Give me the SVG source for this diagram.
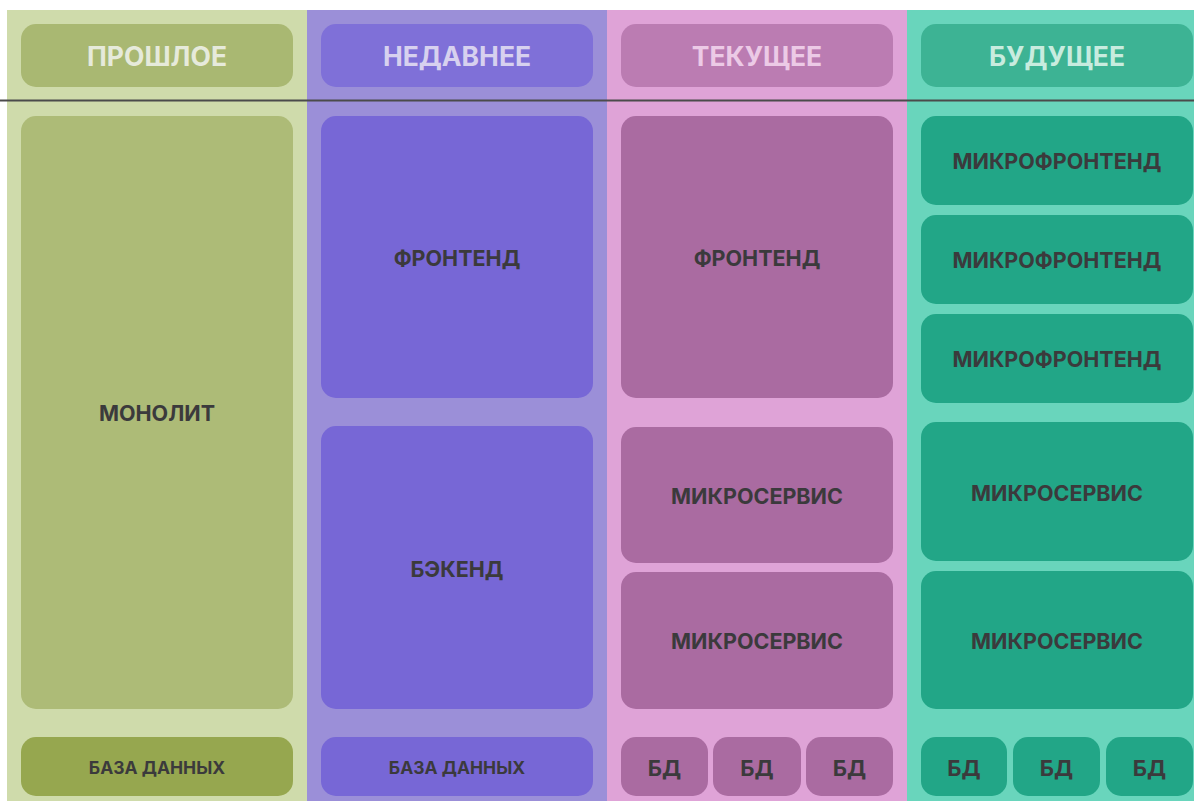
<svg xmlns="http://www.w3.org/2000/svg" width="1194" height="801" viewBox="0 0 1194 801">
<style>
.t{font-family:Inter,"Open Sans","Noto Sans","DejaVu Sans",sans-serif;font-weight:700;text-anchor:middle;dominant-baseline:central}
.h{font-size:26.5px}
.b{font-size:21.5px;fill:#3b3a3c}
.s{font-size:17.5px;fill:#3b3a3c}
.d{font-size:22px;fill:#3b3a3c}
</style>
<rect width="1194" height="801" fill="#ffffff"/>
<g id="columns">
<rect x="7" y="10" width="300" height="791" fill="#cfdbab"/>
<rect x="307" y="10" width="300" height="791" fill="#9b8fd8"/>
<rect x="607" y="10" width="300" height="791" fill="#dfa3d7"/>
<rect x="907" y="10" width="287" height="791" fill="#69d5bc"/>
</g>
<g id="h-past"><rect x="21" y="24" width="272" height="63" rx="15" fill="#a9b872"/><text class="t h" x="157" y="56" fill="#e6eadb">ПРОШЛОЕ</text></g>
<g id="h-recent"><rect x="321" y="24" width="272" height="63" rx="15" fill="#7f70d8"/><text class="t h" x="457" y="56" fill="#d7d1ef">НЕДАВНЕЕ</text></g>
<g id="h-current"><rect x="621" y="24" width="272" height="63" rx="15" fill="#bb7cb2"/><text class="t h" x="757" y="56" fill="#eccae6">ТЕКУЩЕЕ</text></g>
<g id="h-future"><rect x="921" y="24" width="272" height="63" rx="15" fill="#3db394"/><text class="t h" x="1057" y="56" fill="#c8ecdf">БУДУЩЕЕ</text></g>
<g id="connectors"><line x1="0" y1="100.5" x2="1194" y2="100.5" stroke="#4b4b4b" stroke-width="2"/></g>
<g id="monolith"><rect x="21" y="116" width="272" height="593" rx="15" fill="#adbb77"/><text class="t b" x="157" y="413">МОНОЛИТ</text></g>
<g id="db-past"><rect x="21" y="737" width="272" height="59" rx="15" fill="#96a74f"/><text class="t s" x="157" y="767">БАЗА ДАННЫХ</text></g>
<g id="frontend-recent"><rect x="321" y="116" width="272" height="282" rx="15" fill="#7767d6"/><text class="t b" x="457" y="258">ФРОНТЕНД</text></g>
<g id="backend-recent"><rect x="321" y="426" width="272" height="283" rx="15" fill="#7767d6"/><text class="t b" x="457" y="569">БЭКЕНД</text></g>
<g id="db-recent"><rect x="321" y="737" width="272" height="59" rx="15" fill="#7767d6"/><text class="t s" x="457" y="767">БАЗА ДАННЫХ</text></g>
<g id="frontend-current"><rect x="621" y="116" width="272" height="282" rx="15" fill="#aa6ba1"/><text class="t b" x="757" y="258">ФРОНТЕНД</text></g>
<g id="ms1-current"><rect x="621" y="427" width="272" height="136" rx="15" fill="#aa6ba1"/><text class="t b" x="757" y="496">МИКРОСЕРВИС</text></g>
<g id="ms2-current"><rect x="621" y="572" width="272" height="137" rx="15" fill="#aa6ba1"/><text class="t b" x="757" y="641">МИКРОСЕРВИС</text></g>
<g id="db1-current"><rect x="621" y="737" width="87" height="59" rx="15" fill="#aa6ba1"/><text class="t d" x="664.5" y="768">БД</text></g>
<g id="db2-current"><rect x="713" y="737" width="88" height="59" rx="15" fill="#aa6ba1"/><text class="t d" x="757" y="768">БД</text></g>
<g id="db3-current"><rect x="806" y="737" width="87" height="59" rx="15" fill="#aa6ba1"/><text class="t d" x="849.5" y="768">БД</text></g>
<g id="mfe1"><rect x="921" y="116" width="272" height="89" rx="15" fill="#22a687"/><text class="t b" x="1057" y="161">МИКРОФРОНТЕНД</text></g>
<g id="mfe2"><rect x="921" y="215" width="272" height="89" rx="15" fill="#22a687"/><text class="t b" x="1057" y="260">МИКРОФРОНТЕНД</text></g>
<g id="mfe3"><rect x="921" y="314" width="272" height="89" rx="15" fill="#22a687"/><text class="t b" x="1057" y="359">МИКРОФРОНТЕНД</text></g>
<g id="ms1-future"><rect x="921" y="422" width="272" height="139" rx="15" fill="#22a687"/><text class="t b" x="1057" y="493">МИКРОСЕРВИС</text></g>
<g id="ms2-future"><rect x="921" y="571" width="272" height="138" rx="15" fill="#22a687"/><text class="t b" x="1057" y="641">МИКРОСЕРВИС</text></g>
<g id="db1-future"><rect x="921" y="737" width="86" height="59" rx="15" fill="#22a687"/><text class="t d" x="964" y="768">БД</text></g>
<g id="db2-future"><rect x="1013" y="737" width="87" height="59" rx="15" fill="#22a687"/><text class="t d" x="1056.5" y="768">БД</text></g>
<g id="db3-future"><rect x="1106" y="737" width="87" height="59" rx="15" fill="#22a687"/><text class="t d" x="1149.5" y="768">БД</text></g>
</svg>
